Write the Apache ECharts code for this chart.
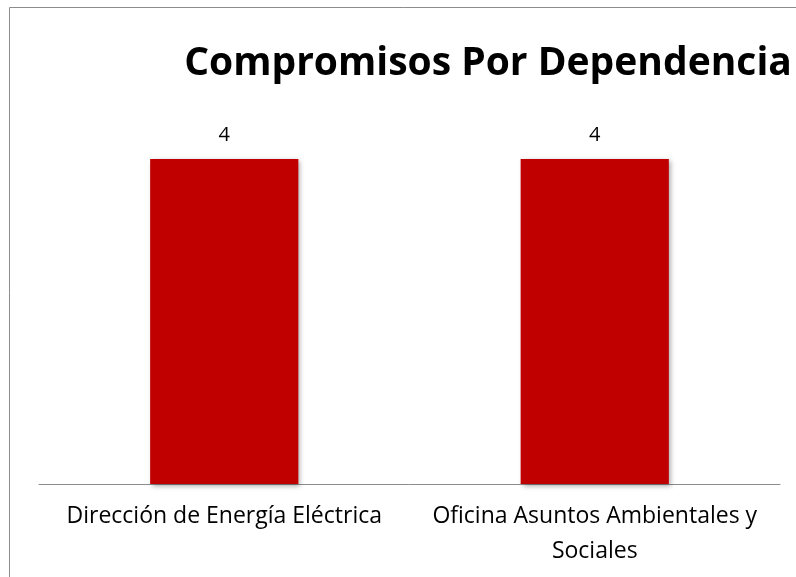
<!DOCTYPE html>
<html>
<head>
<meta charset="utf-8">
<script src="https://cdn.jsdelivr.net/npm/echarts@6/dist/echarts.min.js"></script>
<style>
  html, body { margin: 0; padding: 0; background: #fff; }
  #chart { width: 796px; height: 577px; }
</style>
</head>
<body>
<div id="chart"></div>
<script>
// Compromisos agrupados por dependencia
const categories = ['Dirección de Energía Eléctrica', 'Oficina Asuntos Ambientales y\nSociales'];
const compromisos = [4, 4];

const chart = echarts.init(document.getElementById('chart'), null, { renderer: 'canvas' });

chart.setOption({
  animation: false,
  backgroundColor: '#ffffff',
  graphic: [{
    type: 'rect',
    shape: { x: 9.5, y: 7.5, width: 900, height: 700 },
    style: { fill: 'none', stroke: '#8c8c8c', lineWidth: 1 },
    silent: true
  }],
  title: {
    text: 'Compromisos Por Dependencia',
    left: 483,
    top: 39,
    textAlign: 'center',
    textStyle: { fontFamily: 'Open Sans', fontWeight: 'bold', fontSize: 39, color: '#000' }
  },
  grid: { left: 39, right: 16, top: 159, bottom: 93, containLabel: false },
  xAxis: {
    type: 'category',
    data: categories,
    axisLine: { show: true, lineStyle: { color: '#8c8c8c', width: 1 } },
    axisTick: { show: false },
    axisLabel: {
      interval: 0,
      margin: 15,
      fontFamily: 'Open Sans',
      fontSize: 23,
      lineHeight: 35,
      color: '#000'
    }
  },
  yAxis: {
    type: 'value',
    min: 0,
    max: 4,
    show: false,
    splitLine: { show: false }
  },
  series: [{
    type: 'bar',
    data: compromisos,
    barCategoryGap: '60%',
    itemStyle: {
      color: '#c00000',
      shadowColor: 'rgba(0,0,0,0.35)',
      shadowBlur: 5,
      shadowOffsetX: 2,
      shadowOffsetY: 2
    },
    label: {
      show: true,
      position: 'top',
      distance: 14,
      fontFamily: 'Open Sans',
      fontSize: 20,
      color: '#000'
    }
  }]
});
</script>
</body>
</html>
